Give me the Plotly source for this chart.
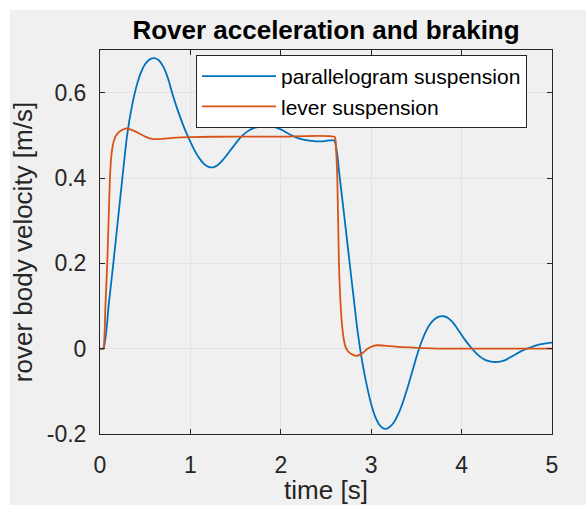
import plotly.graph_objects as go

# ---------------- data ----------------
t_par = [0, 0.035, 0.1, 0.15, 0.2, 0.25, 0.3, 0.35, 0.4, 0.45, 0.5, 0.55, 0.6, 0.65,
         0.7, 0.75, 0.8, 0.85, 0.9, 0.95, 1.0, 1.05, 1.1, 1.15, 1.2, 1.25, 1.3, 1.35,
         1.4, 1.45, 1.5, 1.55, 1.6, 1.65, 1.7, 1.75, 1.8, 1.85, 1.9, 1.95, 2.0, 2.05,
         2.1, 2.15, 2.2, 2.25, 2.3, 2.35, 2.4, 2.45, 2.5, 2.55, 2.59, 2.62, 2.65, 2.7,
         2.75, 2.8, 2.85, 2.9, 2.95, 3.0, 3.05, 3.1, 3.15, 3.2, 3.25, 3.3, 3.35, 3.4,
         3.45, 3.5, 3.55, 3.6, 3.65, 3.7, 3.75, 3.8, 3.85, 3.9, 3.95, 4.0, 4.05, 4.1,
         4.15, 4.2, 4.25, 4.3, 4.35, 4.4, 4.45, 4.5, 4.55, 4.6, 4.65, 4.7, 4.75, 4.8,
         4.85, 4.9, 4.95, 5.0]
v_par = [0, 0.0, 0.11, 0.205, 0.305, 0.405, 0.50, 0.565, 0.612, 0.646, 0.667, 0.678,
         0.681, 0.676, 0.661, 0.635, 0.598, 0.565, 0.535, 0.508, 0.485, 0.463, 0.446,
         0.433, 0.426, 0.425, 0.430, 0.440, 0.453, 0.467, 0.481, 0.494, 0.504, 0.512,
         0.517, 0.520, 0.522, 0.522, 0.521, 0.518, 0.514, 0.508, 0.502, 0.497, 0.493,
         0.490, 0.488, 0.487, 0.486, 0.486, 0.487, 0.488, 0.488, 0.462, 0.405, 0.315,
         0.222, 0.13, 0.04, -0.03, -0.085, -0.13, -0.162, -0.181, -0.188, -0.184,
         -0.173, -0.153, -0.126, -0.093, -0.057, -0.02, 0.012, 0.038, 0.057, 0.069,
         0.075, 0.076, 0.072, 0.062, 0.048, 0.032, 0.017, 0.004, -0.008, -0.018,
         -0.025, -0.029, -0.031, -0.031, -0.029, -0.025, -0.019, -0.013, -0.007,
         -0.002, 0.002, 0.006, 0.009, 0.011, 0.013, 0.014]

t_lev = [0, 0.035, 0.06, 0.08, 0.095, 0.11, 0.125, 0.14, 0.165, 0.2, 0.25, 0.29, 0.35,
         0.42, 0.5, 0.59, 0.7, 0.8, 1.0, 1.5, 2.0, 2.596, 2.61, 2.625, 2.643, 2.655,
         2.668, 2.685, 2.7, 2.72, 2.76, 2.83, 2.9, 2.96, 3.02, 3.07, 3.15, 3.3, 3.5,
         3.8, 5.0]
v_lev = [0, 0.0, 0.1, 0.2, 0.3, 0.4, 0.45, 0.475, 0.494, 0.506, 0.513, 0.516, 0.513,
         0.506, 0.497, 0.491, 0.492, 0.494, 0.496, 0.497, 0.497, 0.496, 0.47, 0.4,
         0.2, 0.13, 0.08, 0.04, 0.018, 0.002, -0.01, -0.017, -0.011, 0.0, 0.006,
         0.008, 0.007, 0.004, 0.002, 0.0, 0.0]

series_names = ["parallelogram suspension", "lever suspension"]
x_ticks = [0, 1, 2, 3, 4, 5]
x_ticklabels = ["0", "1", "2", "3", "4", "5"]
y_ticks = [-0.2, 0, 0.2, 0.4, 0.6]
y_ticklabels = ["-0.2", "0", "0.2", "0.4", "0.6"]

title_text = "Rover acceleration and braking"
x_title = "time [s]"
y_title = "rover body velocity [m/s]"

# ---------------- figure ----------------
W, H = 586, 505
ML, MR, MT, MB = 100, 34, 50, 71
FONT = "Liberation Sans, Arial, Helvetica, sans-serif"
INK = "#262626"

fig = go.Figure()
fig.add_trace(go.Scatter(x=t_par, y=v_par, mode="lines", name=series_names[0],
                         line=dict(color="#0072BD", width=1.8, shape="spline", smoothing=0.8)))
fig.add_trace(go.Scatter(x=t_lev, y=v_lev, mode="lines", name=series_names[1],
                         line=dict(color="#D95319", width=1.8, shape="spline", smoothing=0.5)))

pw = W - ML - MR
ph = H - MT - MB
# light grey figure background with white strip at top/left (as in screenshot)
fig.add_shape(type="rect", xref="paper", yref="paper", layer="below",
              x0=(10 - ML) / pw, x1=(W - ML) / pw + 0.01,
              y0=-(MB + 5) / ph, y1=1 + (MT - 10) / ph,
              fillcolor="#f0f0f0", line=dict(width=0))

axis_common = dict(
    showline=True, linecolor=INK, linewidth=1, mirror="ticks",
    ticks="inside", ticklen=5, tickcolor=INK, tickwidth=1,
    showgrid=True, gridcolor="#e3e3e3", gridwidth=1, automargin=False,
    zeroline=False, tickfont=dict(family=FONT, size=23, color=INK),
)

fig.update_layout(
    width=W, height=H,
    margin=dict(l=ML, r=MR, t=MT, b=MB, autoexpand=False),
    paper_bgcolor="white", plot_bgcolor="white",
    font=dict(family=FONT, color=INK),
    title=dict(text="<b>" + title_text + "</b>", x=0.5, xref="paper", xanchor="center",
               y=1 - 30 / H, yref="container", yanchor="middle",
               font=dict(family=FONT, size=26, color="#000000")),
    xaxis=dict(range=[0, 5], tickvals=x_ticks, ticktext=x_ticklabels,
               title=dict(text=x_title, font=dict(family=FONT, size=26, color=INK), standoff=10),
               ticklabelstandoff=10, **axis_common),
    yaxis=dict(range=[-0.2, 0.7], tickvals=y_ticks, ticktext=y_ticklabels,
               title=dict(text=y_title, font=dict(family=FONT, size=26, color=INK), standoff=6),
               ticklabelstandoff=8, **axis_common),
    legend=dict(x=(196 - ML) / pw, y=1 - 5 / ph, xanchor="left", yanchor="top",
                bgcolor="white", bordercolor=INK, borderwidth=1,
                font=dict(family=FONT, size=21, color="#000000"),
                itemwidth=74, tracegroupgap=0),
    showlegend=True,
)

fig.write_html("out.html")
